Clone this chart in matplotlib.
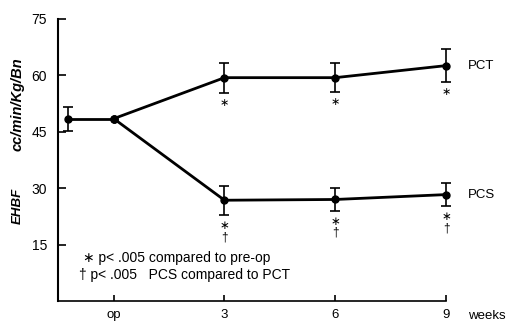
import matplotlib.pyplot as plt
import numpy as np

plt.rcParams['font.family'] = ['Liberation Sans', 'DejaVu Sans']

# pre-op and op (shared by both groups)
pre_x = -1.24
pre_val = 48.5
pre_err = 3.2
op_val = 48.5

weeks = [3, 6, 9]
pct = [59.4, 59.4, 62.6]
pct_err = [4.0, 3.8, 4.3]
pcs = [26.8, 27.0, 28.3]
pcs_err = [3.9, 3.0, 3.0]

pct_marks = ["∗", "∗", "∗"]
pcs_marks = ["∗\n†", "∗\n†", "∗\n†"]

xticks = [0, 3, 6, 9]
xticklabels = ["op", "3", "6", "9"]
yticks = [15, 30, 45, 60, 75]

fig = plt.figure(figsize=(5.08, 3.23), dpi=100)
ax = fig.add_axes([58/508, 22/323, 388/508, 282/323])

kw = dict(color='black', lw=2, marker='o', ms=5, clip_on=False)
ax.plot([pre_x, 0], [pre_val, op_val], **kw)
ax.plot([0] + weeks, [op_val] + pct, **kw)
ax.plot([0] + weeks, [op_val] + pcs, **kw)

ebkw = dict(fmt='none', ecolor='black', elinewidth=1.2, capsize=3.5, capthick=1.2, clip_on=False)
ax.errorbar([pre_x], [pre_val], yerr=[pre_err], **ebkw)
ax.errorbar(weeks, pct, yerr=pct_err, **ebkw)
ax.errorbar(weeks, pcs, yerr=pcs_err, **ebkw)

for x, y, e, m in zip(weeks, pct, pct_err, pct_marks):
    ax.annotate(m, xy=(x, y - e), xytext=(0, -4), textcoords='offset points',
                ha='center', va='top', fontsize=8, linespacing=0.9)
for x, y, e, m in zip(weeks, pcs, pcs_err, pcs_marks):
    ax.annotate(m, xy=(x, y - e), xytext=(0, -4), textcoords='offset points',
                ha='center', va='top', fontsize=8.5, linespacing=0.85)

ax.annotate("PCT", xy=(weeks[-1], pct[-1]), xytext=(16, 0), textcoords='offset points',
            va='center', fontsize=9.5)
ax.annotate("PCS", xy=(weeks[-1], pcs[-1]), xytext=(16, 0), textcoords='offset points',
            va='center', fontsize=9.5)

ax.text(-0.82, 11.4, "∗ p< .005 compared to pre-op", fontsize=10, va='center')
ax.text(-0.93, 6.8, "† p< .005   PCS compared to PCT", fontsize=10, va='center')

ax.set_xlim(-1.51, 9)
ax.set_ylim(0, 75)
ax.set_xticks(xticks)
ax.set_xticklabels(xticklabels, fontsize=9.5)
ax.set_yticks(yticks)
ax.tick_params(axis='y', direction='in', length=6, width=1.2, pad=8, labelsize=10)
ax.tick_params(axis='x', direction='in', length=4, width=1.2, pad=6)
ax.spines['top'].set_visible(False)
ax.spines['right'].set_visible(False)
ax.spines['left'].set_linewidth(1.5)
ax.spines['bottom'].set_linewidth(1.2)

fig.text(487/508, 1 - 316/323, "weeks", fontsize=9.5, ha='center', va='center')
fig.text(18/508, 1 - 104/323, "cc/min/Kg/Bn", rotation=90, fontsize=10.5,
         fontweight='bold', fontstyle='italic', ha='center', va='center')
fig.text(18/508, 1 - 206/323, "EHBF", rotation=90, fontsize=9.5,
         fontweight='bold', fontstyle='italic', ha='center', va='center')

fig.savefig("out.png", dpi=100)
